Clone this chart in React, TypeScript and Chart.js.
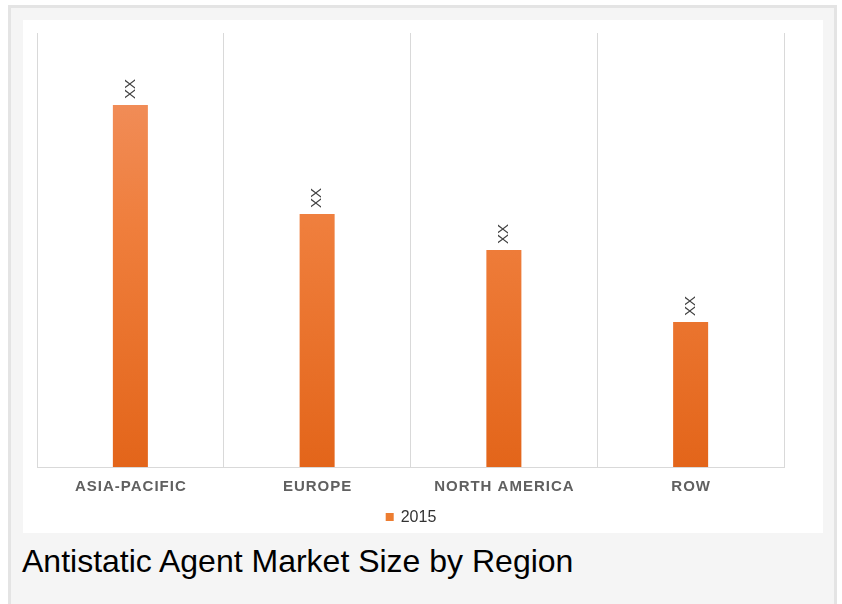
import React, { useEffect, useRef } from "react";
import { Chart, registerables } from "chart.js";

Chart.register(...registerables);

const categories = ["ASIA-PACIFIC", "EUROPE", "NORTH AMERICA", "ROW"];
const seriesName = "2015";
const values2015 = [83.4, 58.3, 50.0, 33.4];
const valueLabels = ["XX", "XX", "XX", "XX"];
const chartTitle = "Antistatic Agent Market Size by Region";

const FONT = "'Liberation Sans', Arial, sans-serif";

const labelPlugin = {
  id: "customLabels",
  afterDatasetsDraw(chart: any) {
    const ctx = chart.ctx;
    const meta = chart.getDatasetMeta(0);
    ctx.save();
    ctx.fillStyle = "#404040";
    ctx.font = `15px ${FONT}`;
    ctx.textAlign = "center";
    ctx.textBaseline = "middle";
    meta.data.forEach((bar: any, i: number) => {
      ctx.save();
      ctx.translate(bar.x, bar.y - 16);
      ctx.rotate(-Math.PI / 2);
      ctx.fillText(valueLabels[i], 0, 0);
      ctx.restore();
    });
    ctx.restore();
  },
  afterDraw(chart: any) {
    const ctx = chart.ctx;
    const xs = chart.scales.x;
    const base = chart.chartArea.bottom;
    ctx.save();
    // category labels
    ctx.fillStyle = "#606060";
    ctx.font = `bold 15px ${FONT}`;
    (ctx as any).letterSpacing = "1px";
    ctx.textAlign = "center";
    ctx.textBaseline = "middle";
    categories.forEach((c, i) => {
      ctx.fillText(c, xs.getPixelForValue(i) + 0.5, base + 20);
    });
    (ctx as any).letterSpacing = "0px";
    // legend
    const cx = (chart.chartArea.left + chart.chartArea.right) / 2;
    const ly = base + 50;
    ctx.font = `16px ${FONT}`;
    const tw = ctx.measureText(seriesName).width;
    const total = 8 + 8 + tw;
    const sx = cx - total / 2 + 1;
    ctx.fillStyle = "#ED7D31";
    ctx.fillRect(sx, ly - 4, 8, 8);
    ctx.fillStyle = "#333333";
    ctx.textAlign = "left";
    ctx.fillText(seriesName, sx + 15, ly + 1);
    ctx.restore();
  },
};

export default function App() {
  const ref = useRef<HTMLCanvasElement>(null);
  useEffect(() => {
    if (!ref.current) return;
    const chart = new Chart(ref.current, {
      type: "bar",
      data: {
        labels: categories,
        datasets: [
          {
            label: seriesName,
            data: values2015,
            backgroundColor: (c: any) => {
              const ch = c.chart;
              const area = ch.chartArea;
              if (!area) return "#ED7D31";
              const g = ch.ctx.createLinearGradient(0, area.top, 0, area.bottom);
              g.addColorStop(0, "#F29466");
              g.addColorStop(0.45, "#EF7E3C");
              g.addColorStop(1, "#E3651A");
              return g;
            },
            borderWidth: 0,
            barPercentage: 0.75,
            categoryPercentage: 0.25,
          },
        ],
      },
      plugins: [labelPlugin],
      options: {
        responsive: false,
        animation: false,
        layout: { padding: { left: 14, right: 39, top: 13, bottom: 0 } },
        plugins: {
          legend: { display: false },
          tooltip: { enabled: false },
          title: { display: false },
        },
        scales: {
          x: {
            grid: { display: true, color: "#D9D9D9", lineWidth: 1, drawTicks: false, offset: true },
            border: { display: true, color: "#D9D9D9" },
            ticks: { display: false },
            afterFit: (s: any) => {
              s.height = 66;
            },
          },
          y: {
            display: false,
            min: 0,
            max: 100,
          },
        },
      },
    });
    return () => chart.destroy();
  }, []);

  return (
    <div
      style={{
        position: "fixed",
        left: 0,
        top: 0,
        width: 842,
        height: 604,
        background: "#ffffff",
        overflow: "hidden",
      }}
    >
      <div
        style={{
          position: "absolute",
          left: 8,
          top: 5,
          width: 829,
          height: 620,
          boxSizing: "border-box",
          border: "3px solid #E4E4E4",
          background: "#F5F5F5",
        }}
      />
      <div
        style={{
          position: "absolute",
          left: 23,
          top: 20,
          width: 800,
          height: 513,
          background: "#FFFFFF",
        }}
      >
        <canvas ref={ref} width={800} height={513} style={{ display: "block" }} />
      </div>
      <div
        style={{
          position: "absolute",
          left: 22,
          top: 541,
          fontFamily: FONT,
          fontSize: 32,
          lineHeight: "40px",
          color: "#000000",
          whiteSpace: "nowrap",
        }}
      >
        {chartTitle}
      </div>
    </div>
  );
}
